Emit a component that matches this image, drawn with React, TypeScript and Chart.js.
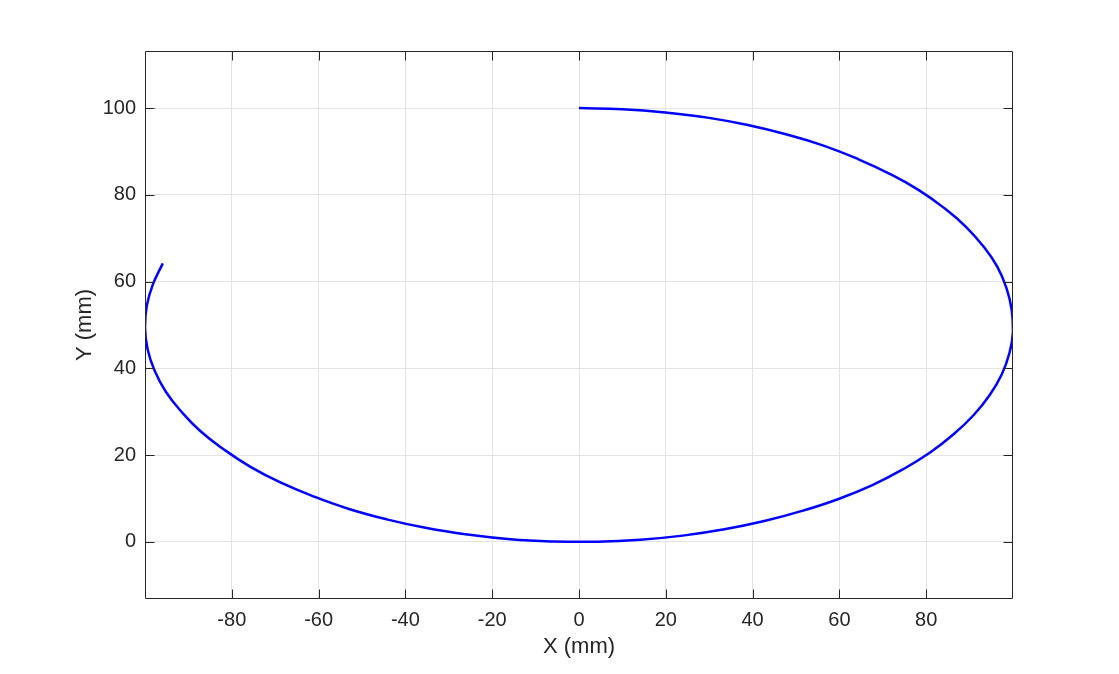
import React, { useEffect, useRef } from "react";
import { Chart, registerables } from "chart.js";
Chart.register(...registerables);

const xValues = [0, 10.0, 19.9, 29.6, 38.9, 47.9, 56.5, 64.4, 71.7, 78.3, 84.1, 89.1, 93.2, 96.4, 98.5, 99.7, 100.0, 99.2, 97.4, 94.6, 90.9, 86.3, 80.9, 74.6, 67.6, 59.8, 51.6, 42.7, 33.5, 23.9, 14.1, 4.2, -5.8, -15.8, -25.6, -35.1, -44.3, -53.0, -61.2, -68.8, -75.7, -81.8, -87.2, -91.6, -95.2, -97.8, -99.4, -100.0, -99.6, -98.2, -95.9];
const yValues = [100, 99.75, 99.0, 97.8, 96.1, 93.9, 91.3, 88.2, 84.8, 81.1, 77.0, 72.7, 68.1, 63.4, 58.5, 53.5, 48.5, 43.6, 38.6, 33.8, 29.2, 24.8, 20.6, 16.7, 13.1, 9.9, 7.2, 4.8, 2.9, 1.45, 0.5, 0.05, 0.1, 0.6, 1.7, 3.2, 5.2, 7.6, 10.5, 13.7, 17.3, 21.3, 25.5, 30.0, 34.6, 39.5, 44.4, 49.4, 54.4, 59.3, 64.2];
const xTicks = [-80, -60, -40, -20, 0, 20, 40, 60, 80];
const yTicks = [0, 20, 40, 60, 80, 100];
const xRange = [-100, 100];
const yRange = [-13.16, 113.16];
const xTitle = "X (mm)";
const yTitle = "Y (mm)";

const AXIS = "#262626";
const FONT = "'Liberation Sans', Arial, Helvetica, sans-serif";

const boxPlugin = {
  id: "boxPlugin",
  afterDatasetsDraw(chart: any) {
    const { ctx, chartArea: a, scales } = chart;
    ctx.save();
    ctx.strokeStyle = AXIS;
    ctx.lineWidth = 1;
    const L = Math.round(a.left) + 0.5;
    const R = Math.round(a.right) - 0.5;
    const T = Math.round(a.top) + 0.5;
    const B = Math.round(a.bottom) - 0.5;
    ctx.beginPath();
    ctx.rect(L, T, R - L, B - T);
    ctx.stroke();
    const tl = 9;
    ctx.beginPath();
    for (const v of xTicks) {
      const px = Math.round(scales.x.getPixelForValue(v)) + 0.5;
      ctx.moveTo(px, B);
      ctx.lineTo(px, B - tl);
      ctx.moveTo(px, T);
      ctx.lineTo(px, T + tl);
    }
    for (const v of yTicks) {
      const py = Math.round(scales.y.getPixelForValue(v)) + 0.5;
      ctx.moveTo(L, py);
      ctx.lineTo(L + tl, py);
      ctx.moveTo(R, py);
      ctx.lineTo(R - tl, py);
    }
    ctx.stroke();
    ctx.restore();
  },
};

export default function App() {
  const ref = useRef<HTMLCanvasElement>(null);
  useEffect(() => {
    document.body.style.margin = "0";
    const data = xValues.map((x, i) => ({ x, y: yValues[i] }));
    const chart = new Chart(ref.current!, {
      type: "scatter",
      data: {
        datasets: [
          {
            data,
            showLine: true,
            borderColor: "#0000ff",
            borderWidth: 2.5,
            borderJoinStyle: "round",
            pointRadius: 0,
            tension: 0.45,
            fill: false,
          },
        ],
      },
      options: {
        responsive: false,
        animation: false,
        layout: { padding: { left: 72, top: 51, right: 106, bottom: 14 } },
        plugins: { legend: { display: false }, tooltip: { enabled: false } },
        scales: {
          x: {
            type: "linear",
            min: xRange[0],
            max: xRange[1],
            afterBuildTicks: (s: any) => {
              s.ticks = xTicks.map((v) => ({ value: v }));
            },
            afterFit: (s: any) => {
              s.height = 61;
            },
            grid: { color: "#e3e3e3", lineWidth: 1, drawTicks: false },
            border: { display: false },
            ticks: {
              color: AXIS,
              font: { family: FONT, size: 20 },
              padding: 9,
              maxRotation: 0,
            },
            title: {
              display: true,
              text: xTitle,
              color: AXIS,
              font: { family: FONT, size: 22 },
              padding: { top: 0, bottom: 0 },
            },
          },
          y: {
            type: "linear",
            min: yRange[0],
            max: yRange[1],
            afterBuildTicks: (s: any) => {
              s.ticks = yTicks.map((v) => ({ value: v }));
            },
            afterFit: (s: any) => {
              s.width = 73;
            },
            grid: { color: "#e3e3e3", lineWidth: 1, drawTicks: false },
            border: { display: false },
            ticks: {
              color: AXIS,
              font: { family: FONT, size: 20 },
              padding: 9,
            },
            title: {
              display: true,
              text: yTitle,
              color: AXIS,
              font: { family: FONT, size: 22 },
              padding: { top: 0, bottom: 0 },
            },
          },
        },
      },
      plugins: [boxPlugin],
    });
    return () => chart.destroy();
  }, []);
  return <canvas ref={ref} width={1119} height={674} style={{ display: "block" }} />;
}
